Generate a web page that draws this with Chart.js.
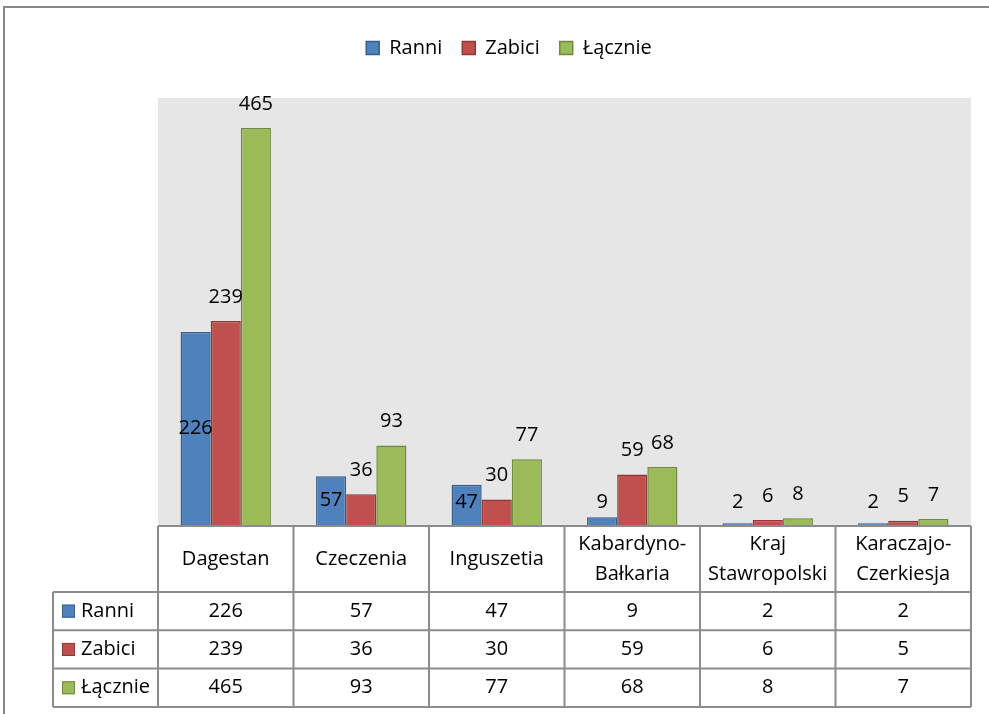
<!DOCTYPE html>
<html>
<head>
<meta charset="utf-8">
<script src="https://cdn.jsdelivr.net/npm/chart.js@4.4.0/dist/chart.umd.min.js"></script>
<style>
  html, body { margin: 0; padding: 0; background: #fff; }
</style>
</head>
<body>
<canvas id="chart" width="989" height="714"></canvas>
<script>
const regions = ['Dagestan', 'Czeczenia', 'Inguszetia', ['Kabardyno-', 'Bałkaria'], ['Kraj', 'Stawropolski'], ['Karaczajo-', 'Czerkiesja']];
const seriesNames = ['Ranni', 'Zabici', 'Łącznie'];
const ranni = [226, 57, 47, 9, 2, 2];
const zabici = [239, 36, 30, 59, 6, 5];
const lacznie = [465, 93, 77, 68, 8, 7];

const fills = ['#4f81bd', '#c0504d', '#9bbb59'];
const borders = ['#385d8a', '#8c3836', '#71893f'];
const font = '"Open Sans", sans-serif';
const gridColor = '#8c8c8c';

Chart.defaults.color = '#000';
Chart.defaults.font.family = font;
Chart.defaults.font.size = 20;

// grey plot area behind the bars
const plotBg = {
    id: 'plotBg',
    beforeDraw(chart) {
        const a = chart.chartArea;
        const ctx = chart.ctx;
        ctx.save();
        ctx.fillStyle = '#e6e6e6';
        ctx.fillRect(a.left, a.top, a.right - a.left, a.bottom - a.top);
        ctx.restore();
    }
};

// outer frame (only top and left edge are inside the picture)
const frame = {
    id: 'frame',
    afterDraw(chart) {
        const ctx = chart.ctx;
        ctx.save();
        ctx.strokeStyle = '#878787';
        ctx.lineWidth = 2;
        ctx.beginPath();
        ctx.moveTo(4, chart.height);
        ctx.lineTo(4, 7);
        ctx.lineTo(chart.width, 7);
        ctx.stroke();
        ctx.restore();
    }
};

// value labels, placed the way the original has them
const barLabels = {
    id: 'barLabels',
    afterDatasetsDraw(chart) {
        const ctx = chart.ctx;
        ctx.save();
        ctx.font = '20px ' + font;
        ctx.fillStyle = '#000';
        ctx.textAlign = 'center';
        ctx.textBaseline = 'middle';
        chart.data.datasets.forEach((ds, i) => {
            const meta = chart.getDatasetMeta(i);
            meta.data.forEach((bar, j) => {
                let y;
                if (i === 0) {
                    y = Math.min((bar.y + bar.base) / 2, bar.base - 23);
                } else {
                    y = bar.y - 24;
                }
                ctx.fillText(ds.data[j], bar.x, y);
            });
        });
        ctx.restore();
    }
};

// data table under the axis
const dataTable = {
    id: 'dataTable',
    afterDraw(chart) {
        const ctx = chart.ctx;
        const x = chart.scales.x;
        const n = chart.data.labels.length;
        const colW = (x.right - x.left) / n;
        const top = chart.chartArea.bottom + 1;
        const headH = 66;
        const rowH = 38.3;
        const labelLeft = 53;
        const rows = chart.data.datasets.length;
        const bottom = top + headH + rows * rowH;

        ctx.save();
        ctx.strokeStyle = gridColor;
        ctx.lineWidth = 2;
        ctx.beginPath();
        // horizontal lines
        ctx.moveTo(x.left, top);
        ctx.lineTo(x.right, top);
        for (let r = 0; r <= rows; r++) {
            const yy = top + headH + r * rowH;
            ctx.moveTo(labelLeft, yy);
            ctx.lineTo(x.right, yy);
        }
        // vertical lines
        ctx.moveTo(labelLeft, top + headH);
        ctx.lineTo(labelLeft, bottom);
        for (let c = 0; c <= n; c++) {
            const xx = x.left + c * colW;
            ctx.moveTo(xx, top);
            ctx.lineTo(xx, bottom);
        }
        ctx.stroke();

        ctx.font = '20px ' + font;
        ctx.fillStyle = '#000';
        ctx.textBaseline = 'middle';
        ctx.textAlign = 'center';

        // category header
        chart.data.labels.forEach((lab, j) => {
            const cx = x.getPixelForValue(j);
            const lines = Array.isArray(lab) ? lab : [lab];
            const lh = 30;
            const cy = top + headH / 2 - (lines.length - 1) * lh / 2;
            lines.forEach((t, k) => ctx.fillText(t, cx, cy + k * lh));
        });

        // series rows
        chart.data.datasets.forEach((ds, i) => {
            const cy = top + headH + i * rowH + rowH / 2;
            ctx.textAlign = 'center';
            ds.data.forEach((v, j) => {
                ctx.fillText(v, x.getPixelForValue(j), cy);
            });
            ctx.fillStyle = ds.backgroundColor;
            ctx.strokeStyle = ds.borderColor;
            ctx.lineWidth = 1;
            ctx.fillRect(62, cy - 6.5, 13, 13);
            ctx.strokeRect(62.5, cy - 6, 12, 12);
            ctx.fillStyle = '#000';
            ctx.textAlign = 'left';
            ctx.fillText(ds.label, 81, cy);
        });
        ctx.restore();
    }
};

// fixed legend height so the plot starts where the original's does,
// and a wider legend box so it centres on the whole chart
const legendSpace = {
    id: 'legendSpace',
    beforeInit(chart) {
        if (!chart.legend) return;
        const fit = chart.legend.fit;
        chart.legend.fit = function () {
            fit.bind(chart.legend)();
            this.height = 80;
        };
    },
    afterLayout(chart) {
        if (!chart.legend) return;
        chart.legend.left = 29;
        chart.legend.right = 989;
        chart.legend.width = 960;
    }
};

const values = [ranni, zabici, lacznie];

new Chart(document.getElementById('chart'), {
    type: 'bar',
    data: {
        labels: regions,
        datasets: seriesNames.map((name, i) => ({
            label: name,
            data: values[i],
            backgroundColor: fills[i],
            borderColor: borders[i],
            borderWidth: 1.5,
            categoryPercentage: 0.667,
            barPercentage: 1
        }))
    },
    options: {
        responsive: false,
        animation: false,
        devicePixelRatio: 1,
        layout: {
            padding: { top: 18, left: 158, right: 18, bottom: 189 }
        },
        scales: {
            x: { display: false },
            y: { display: false, min: 0, max: 500 }
        },
        plugins: {
            legend: {
                position: 'top',
                labels: {
                    boxWidth: 13,
                    boxHeight: 13,
                    padding: 20,
                    font: { size: 20, family: font }
                }
            },
            tooltip: { enabled: false }
        }
    },
    plugins: [legendSpace, plotBg, barLabels, dataTable, frame]
});
</script>
</body>
</html>
